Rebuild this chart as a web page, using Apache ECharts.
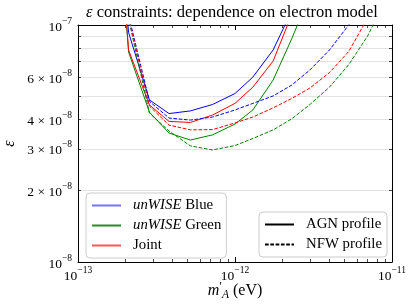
<!DOCTYPE html>
<html><head><meta charset="utf-8">
<script src="https://cdn.jsdelivr.net/npm/echarts@6/dist/echarts.min.js"></script>
<style>html,body{margin:0;padding:0;background:#fff}#c{width:415px;height:307px}</style>
</head><body><div id="c"></div>
<script>
// dark photon mass m'_A (eV)
const masses = [1.8e-13, 2.1e-13, 2.85e-13, 3.8e-13, 5.2e-13, 7.2e-13, 1.0e-12, 1.3e-12, 1.75e-12, 2.3e-12, 3.0e-12, 4.0e-12, 5.3e-12, 7.0e-12, 9.2e-12, 1.2e-11];
// epsilon constraints, AGN profile (solid)
const blueAGN  = [3.0e-7, 9.3e-8, 4.83e-8, 4.23e-8, 4.34e-8, 4.62e-8, 5.14e-8, 6.03e-8, 7.85e-8, 1.15e-7, 1.6e-7, 2.3e-7, 3.3e-7, 4.8e-7, 7.0e-7, 1.0e-6];
const greenAGN = [3.0e-7, 7.69e-8, 4.29e-8, 3.50e-8, 3.27e-8, 3.44e-8, 3.82e-8, 4.38e-8, 5.86e-8, 8.76e-8, 1.34e-7, 2.0e-7, 3.0e-7, 4.5e-7, 6.5e-7, 9.5e-7];
const jointAGN = [3.0e-7, 7.84e-8, 4.60e-8, 3.92e-8, 3.88e-8, 4.17e-8, 4.67e-8, 5.47e-8, 7.05e-8, 1.11e-7, 1.6e-7, 2.3e-7, 3.3e-7, 4.8e-7, 7.0e-7, 1.0e-6];
// epsilon constraints, NFW profile (dashed)
const blueNFW  = [3.0e-7, 1.10e-7, 4.76e-8, 4.05e-8, 3.97e-8, 4.09e-8, 4.38e-8, 4.67e-8, 5.02e-8, 5.58e-8, 6.46e-8, 7.85e-8, 1.0e-7, 1.35e-7, 1.9e-7, 2.7e-7];
const greenNFW = [3.0e-7, 1.06e-7, 4.25e-8, 3.57e-8, 3.09e-8, 2.97e-8, 3.10e-8, 3.32e-8, 3.61e-8, 4.02e-8, 4.62e-8, 5.47e-8, 6.80e-8, 9.0e-8, 1.3e-7, 1.8e-7];
const jointNFW = [3.0e-7, 1.08e-7, 4.55e-8, 3.78e-8, 3.61e-8, 3.62e-8, 3.86e-8, 4.09e-8, 4.47e-8, 4.90e-8, 5.42e-8, 6.30e-8, 7.73e-8, 1.07e-7, 1.5e-7, 2.1e-7];
// ticks and labels
const xMajorTicks = [1e-13, 1e-12, 1e-11];
const xMinorTicks = [2e-13,3e-13,4e-13,5e-13,6e-13,7e-13,8e-13,9e-13,2e-12,3e-12,4e-12,5e-12,6e-12,7e-12,8e-12,9e-12];
const yMajorTicks = [1e-8, 1e-7];
const yMinorTicks = [2e-8,3e-8,4e-8,5e-8,6e-8,7e-8,8e-8,9e-8];
const yLabelValues = [1e-8, 2e-8, 3e-8, 4e-8, 6e-8, 1e-7];
const xLabelValues = [1e-13, 1e-12, 1e-11];

const SERIF = 'Liberation Serif';
const pair = arr => masses.map((m, i) => [m, arr[i]]);

function sci(v) {
  const e = Math.floor(Math.log10(v) + 1e-9);
  const m = Math.round(v / Math.pow(10, e));
  const mant = m === 1 ? '' : m + ' × ';
  return '{b|' + mant + '10}{s|−' + Math.abs(e) + '}';
}
const labRich = {
  b: {fontFamily: SERIF, fontSize: 13.5, color: '#000', lineHeight: 18, verticalAlign: 'bottom'},
  s: {fontFamily: SERIF, fontSize: 9.5, color: '#000', lineHeight: 18, verticalAlign: 'top'}
};

function xAx(pos, ticks, len, line, labels) {
  return {
    type: 'log', logBase: 10, min: 1e-13, max: 1e-11, position: pos,
    axisLine: {show: line, lineStyle: {color: '#000', width: 1}},
    axisTick: {show: true, inside: true, length: len, customValues: ticks, lineStyle: {color: '#000', width: len > 4 ? 1 : 0.7}},
    axisLabel: labels ? {show: true, customValues: xLabelValues, margin: 3, formatter: sci, rich: labRich} : {show: false},
    splitLine: {show: false}
  };
}
function yAx(pos, ticks, len, line, labels, grid) {
  return {
    type: 'log', logBase: 10, min: 1e-8, max: 1e-7, position: pos,
    axisLine: {show: line, lineStyle: {color: '#000', width: 1}},
    axisTick: {show: true, inside: true, length: len, customValues: ticks, lineStyle: {color: '#000', width: len > 4 ? 1 : 0.7}},
    axisLabel: labels ? {show: true, customValues: yLabelValues, margin: 6, formatter: sci, rich: labRich} : {show: false},
    splitLine: {show: grid, lineStyle: {color: '#e3e3e3', width: 1}}
  };
}

const xAxes = [xAx('bottom', xMajorTicks, 5, true, true), xAx('bottom', xMinorTicks, 3, false, false),
               xAx('top', xMajorTicks, 5, true, false), xAx('top', xMinorTicks, 3, false, false)];
xAxes[0].name = "{i|m}{p|′}{sub|A}{n| (eV)}";
xAxes[0].nameLocation = 'middle';
xAxes[0].nameGap = 19;
xAxes[0].nameMoveOverlap = false;
xAxes[0].nameTextStyle = {rich: {
  i: {fontFamily: SERIF, fontStyle: 'italic', fontSize: 16, color: '#000', lineHeight: 20},
  p: {fontFamily: SERIF, fontSize: 12, color: '#000', lineHeight: 20, verticalAlign: 'top'},
  sub: {fontFamily: SERIF, fontStyle: 'italic', fontSize: 11.5, color: '#000', lineHeight: 20, verticalAlign: 'bottom'},
  n: {fontFamily: SERIF, fontSize: 16, color: '#000', lineHeight: 20}
}};
const yAxes = [yAx('left', yMajorTicks, 5, true, true, false), yAx('left', yMinorTicks, 3, false, false, true),
               yAx('right', yMajorTicks, 5, true, false, false), yAx('right', yMinorTicks, 3, false, false, false)];
yAxes[0].name = 'ε';
yAxes[0].nameLocation = 'middle';
yAxes[0].nameGap = 60;
yAxes[0].nameRotate = 90;
yAxes[0].nameMoveOverlap = false;
yAxes[0].nameTextStyle = {fontFamily: SERIF, fontStyle: 'italic', fontSize: 16, color: '#000'};

const COL = {blue: '#0000ff', green: '#008000', red: '#ff0000'};
const DASH = [3.7, 1.6];
function dataSeries(name, arr, color, dashed) {
  return {name: name, type: 'line', xAxisIndex: 0, yAxisIndex: 0, data: pair(arr), symbol: 'none', clip: true,
          lineStyle: {color: color, width: 1, type: dashed ? DASH : 'solid'}, itemStyle: {color: color}, z: 3, silent: true};
}
function legendSeries(name, color, width, dashed) {
  return {name: name, type: 'line', xAxisIndex: 0, yAxisIndex: 0, data: [], symbol: 'none',
          lineStyle: {color: color, width: width, type: dashed ? DASH : 'solid'}, itemStyle: {color: color, opacity: 0}};
}

const legendText = {
  'Blue': '{sp|}{i|unWISE} Blue', 'Green': '{sp|}{i|unWISE} Green', 'Joint': '{sp|}Joint',
  'AGN profile': '{sp|}AGN profile', 'NFW profile': '{sp|}NFW profile'
};
const legRich = {
  sp: {width: 7},
  i: {fontFamily: SERIF, fontStyle: 'italic', fontSize: 14.8, color: '#000', lineHeight: 14}
};
const legBase = {
  orient: 'vertical', itemWidth: 29, itemHeight: 14, itemGap: 5, padding: 5,
  backgroundColor: 'rgba(255,255,255,0.8)', borderColor: '#cccccc', borderWidth: 1, borderRadius: 4,
  selectedMode: false, formatter: n => legendText[n],
  itemStyle: {opacity: 0},
  textStyle: {fontFamily: SERIF, fontSize: 14.8, color: '#000', lineHeight: 14, rich: legRich}
};

const option = {
  animation: false,
  backgroundColor: '#fff',
  title: {
    text: '{e|ε} constraints: dependence on electron model', left: 86, top: 4, padding: 0,
    textStyle: {fontFamily: SERIF, fontSize: 16.5, fontWeight: 'normal', color: '#000',
      rich: {e: {fontFamily: SERIF, fontStyle: 'italic', fontSize: 16.5, color: '#000'}}}
  },
  grid: {left: 78, top: 25, width: 314, height: 237, outerBoundsMode: 'none'},
  xAxis: xAxes,
  yAxis: yAxes,
  legend: [
    Object.assign({}, legBase, {data: ['Blue', 'Green', 'Joint'], left: 86, top: 193}),
    Object.assign({}, legBase, {data: ['AGN profile', 'NFW profile'], left: 259, top: 212})
  ],
  series: [
    dataSeries('Blue AGN', blueAGN, COL.blue, false),
    dataSeries('Green AGN', greenAGN, COL.green, false),
    dataSeries('Joint AGN', jointAGN, COL.red, false),
    dataSeries('Blue NFW', blueNFW, COL.blue, true),
    dataSeries('Green NFW', greenNFW, COL.green, true),
    dataSeries('Joint NFW', jointNFW, COL.red, true),
    legendSeries('Blue', '#7373ff', 2, false),
    legendSeries('Green', '#2a8a2a', 1.2, false),
    legendSeries('Joint', '#ff5555', 1.6, false),
    legendSeries('AGN profile', '#000', 1.2, false),
    legendSeries('NFW profile', '#000', 1.2, true)
  ]
};
const chart = echarts.init(document.getElementById('c'), null, {renderer: 'canvas'});
chart.setOption(option);
</script></body></html>
